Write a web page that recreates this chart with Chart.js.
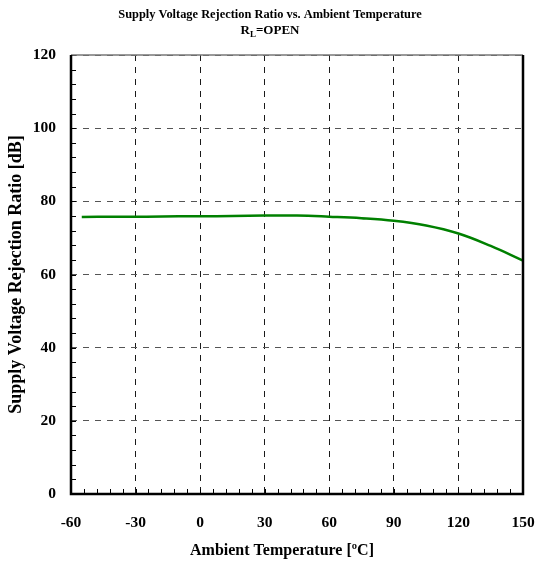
<!DOCTYPE html>
<html lang="en">

<head>
    <meta charset="utf-8">
    <title>Supply Voltage Rejection Ratio vs. Ambient Temperature</title>
    <script src="https://cdn.jsdelivr.net/npm/chart.js"></script>
    <style>
        body {
            margin: 0;
            background-color: #ffffff;
        }
    </style>
</head>

<body>
    <canvas id="myChart" width="536" height="562"></canvas>

    <script>
        // Data
        const temperatures = [-55, -40, -25, -10, 0, 15, 30, 45, 60, 75, 90, 105, 120, 135, 150];
        const svrrValues = [75.7, 75.8, 75.8, 75.9, 75.9, 76.0, 76.1, 76.1, 75.8, 75.4, 74.7, 73.4, 71.2, 67.8, 63.8];
        const xTicks = [-60, -30, 0, 30, 60, 90, 120, 150];
        const yTicks = [0, 20, 40, 60, 80, 100, 120];
        const xAxisTitle = 'Ambient Temperature [ºC]';

        const serif = "'Liberation Serif', 'Times New Roman', serif";

        // Title with subscript L, x axis title, frame and inward minor ticks
        const decorations = {
            id: 'decorations',
            afterDraw(chart) {
                const c = chart.ctx;
                const area = chart.chartArea;
                const xs = chart.scales.x, ys = chart.scales.y;
                c.save();

                // minor ticks, left and bottom, pointing inward
                c.strokeStyle = '#000';
                c.lineWidth = 1;
                c.beginPath();
                for (let v = 0; v <= 120; v += 4) {
                    const y = Math.round(ys.getPixelForValue(v)) + 0.5;
                    c.moveTo(area.left, y);
                    c.lineTo(area.left + 5, y);
                }
                for (let v = -60; v <= 150; v += 6) {
                    const x = Math.round(xs.getPixelForValue(v)) + 0.5;
                    c.moveTo(x, area.bottom);
                    c.lineTo(x, area.bottom - 5);
                }
                c.stroke();

                // frame
                c.lineWidth = 1.5;
                c.strokeStyle = '#777';
                c.beginPath();
                c.moveTo(area.left, area.top);
                c.lineTo(area.right, area.top);
                c.stroke();
                c.lineWidth = 2.5;
                c.strokeStyle = '#000';
                c.beginPath();
                c.moveTo(area.right, area.top);
                c.lineTo(area.right, area.bottom);
                c.lineTo(area.left, area.bottom);
                c.lineTo(area.left, area.top);
                c.stroke();

                // title
                const cx = chart.width / 2 + 2;
                c.fillStyle = '#000';
                c.textBaseline = 'middle';
                c.textAlign = 'center';
                c.font = 'bold 12.4px ' + serif;
                c.fillText('Supply Voltage Rejection Ratio vs. Ambient Temperature', cx, 15);

                const partR = 'R', partL = 'L', partRest = '=OPEN';
                c.font = 'bold 13px ' + serif;
                const wR = c.measureText(partR).width;
                const wRest = c.measureText(partRest).width;
                c.font = 'bold 9px ' + serif;
                const wL = c.measureText(partL).width;
                let x0 = cx - (wR + wL + wRest) / 2;
                c.textAlign = 'left';
                c.font = 'bold 13px ' + serif;
                c.fillText(partR, x0, 31);
                c.font = 'bold 9px ' + serif;
                c.fillText(partL, x0 + wR, 35);
                c.font = 'bold 13px ' + serif;
                c.fillText(partRest, x0 + wR + wL, 31);

                // x axis title
                c.textAlign = 'center';
                c.font = 'bold 16px ' + serif;
                c.fillText(xAxisTitle, 282, 551);

                c.restore();
            }
        };

        const data = {
            datasets: [{
                label: 'SVRR',
                data: temperatures.map((t, i) => ({ x: t, y: svrrValues[i] })),
                borderColor: '#008000',
                borderWidth: 2.5,
                pointRadius: 0,
                fill: false,
                tension: 0.4
            }]
        };

        const config = {
            type: 'line',
            data: data,
            options: {
                responsive: false,
                animation: false,
                layout: {
                    padding: { top: 55, right: 13, left: 0, bottom: 0 }
                },
                scales: {
                    x: {
                        type: 'linear',
                        min: -60,
                        max: 150,
                        afterBuildTicks: s => { s.ticks = xTicks.map(v => ({ value: v })); },
                        afterFit: s => {
                            s.height = 68;
                            s.paddingLeft = 0;
                            s.paddingRight = 0;
                        },
                        border: { display: false, dash: [6, 6] },
                        grid: {
                            color: '#1a1a1a',
                            lineWidth: 1,
                            drawTicks: false
                        },
                        ticks: {
                            padding: 20,
                            maxRotation: 0,
                            color: '#000',
                            font: { family: serif, size: 15.5, weight: 'bold' }
                        },
                        title: { display: false }
                    },
                    y: {
                        min: 0,
                        max: 120,
                        afterBuildTicks: s => { s.ticks = yTicks.map(v => ({ value: v })); },
                        afterFit: s => { s.width = 71; },
                        border: { display: false, dash: [6, 6] },
                        grid: {
                            color: '#555',
                            lineWidth: 1,
                            drawTicks: false
                        },
                        ticks: {
                            padding: 15,
                            color: '#000',
                            font: { family: serif, size: 15.5, weight: 'bold' }
                        },
                        title: {
                            display: true,
                            text: 'Supply Voltage Rejection Ratio [dB]',
                            color: '#000',
                            padding: { top: 6, bottom: 0 },
                            font: { family: serif, size: 18, weight: 'bold' }
                        }
                    }
                },
                plugins: {
                    legend: { display: false },
                    tooltip: { enabled: false }
                }
            },
            plugins: [decorations]
        };

        const myChart = new Chart(document.getElementById('myChart').getContext('2d'), config);
    </script>
</body>

</html>
